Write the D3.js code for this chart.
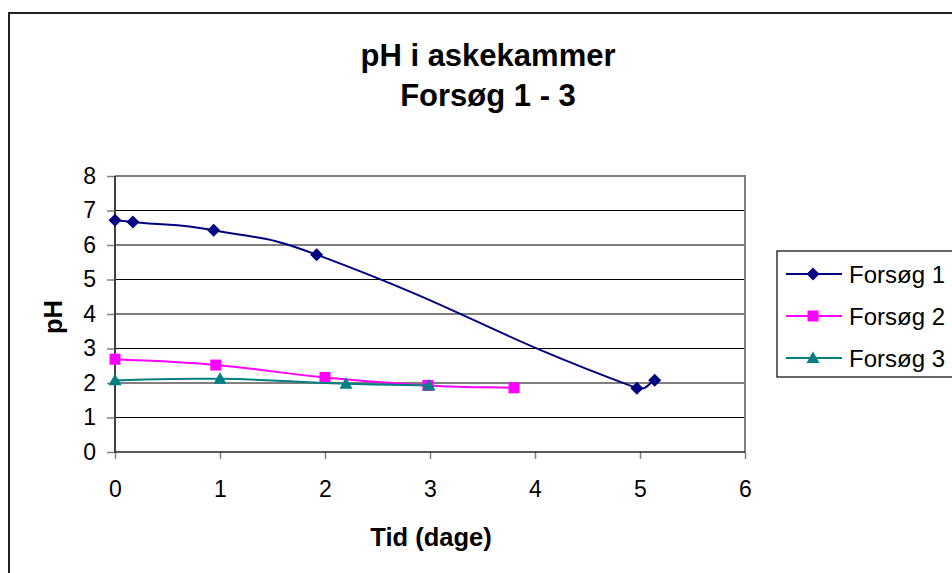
<!DOCTYPE html>
<html><head><meta charset="utf-8">
<script src="https://cdn.jsdelivr.net/npm/d3@7"></script>
<style>
html,body{margin:0;padding:0;background:#fff;}
svg{display:block;font-family:"Liberation Sans",Arial,sans-serif;}
</style></head>
<body>
<svg id="chart" width="952" height="573"></svg>
<script>
// ---- data ----
const titleLines = ["pH i askekammer", "Forsøg 1 - 3"];
const xTitle = "Tid (dage)";
const yTitle = "pH";
const xTicks = [0, 1, 2, 3, 4, 5, 6];
const yTicks = [0, 1, 2, 3, 4, 5, 6, 7, 8];
const seriesNames = ["Forsøg 1", "Forsøg 2", "Forsøg 3"];
const forsog1X = [0, 0.17, 0.94, 1.92, 4.97, 5.14];
const forsog1Y = [6.72, 6.67, 6.43, 5.72, 1.85, 2.08];
const forsog2X = [0, 0.96, 2.0, 2.98, 3.8];
const forsog2Y = [2.69, 2.52, 2.16, 1.93, 1.86];
const forsog3X = [0, 1.0, 2.2, 2.99];
const forsog3Y = [2.08, 2.12, 1.98, 1.93];

const series = [
  {name: seriesNames[0], xs: forsog1X, ys: forsog1Y, color: "#000080", marker: "diamond"},
  {name: seriesNames[1], xs: forsog2X, ys: forsog2Y, color: "#FF00FF", marker: "square"},
  {name: seriesNames[2], xs: forsog3X, ys: forsog3Y, color: "#008080", marker: "triangle"}
];

const svg = d3.select("#chart");
const L = 115, R = 745, T = 176, B = 452;
const x = d3.scaleLinear().domain([0, 6]).range([L, R]);
const y = d3.scaleLinear().domain([0, 8]).range([B, T]);

// Excel-like smoothing: Bezier with tangents split by neighbouring segment lengths
function curveExcelSmooth(context) {
  let pts = [];
  const K = 0.5;
  return {
    areaStart() {}, areaEnd() {},
    lineStart() { pts = []; },
    point(px, py) { pts.push([+px, +py]); },
    lineEnd() {
      const n = pts.length;
      if (!n) return;
      context.moveTo(pts[0][0], pts[0][1]);
      if (n === 1) return;
      const dist = (a, b) => Math.hypot(b[0] - a[0], b[1] - a[1]);
      const outC = [], inC = [];
      for (let i = 0; i < n; i++) {
        const p = pts[i];
        const prev = pts[Math.max(0, i - 1)], next = pts[Math.min(n - 1, i + 1)];
        const tx = next[0] - prev[0], ty = next[1] - prev[1];
        const dp = i > 0 ? dist(prev, p) : 0, dn = i < n - 1 ? dist(p, next) : 0;
        const sum = dp + dn || 1;
        let fo = K * dn / sum, fi = K * dp / sum;
        if (i === 0) fo = 1 / 3;
        if (i === n - 1) fi = 1 / 3;
        outC.push([p[0] + tx * fo, p[1] + ty * fo]);
        inC.push([p[0] - tx * fi, p[1] - ty * fi]);
      }
      for (let i = 0; i < n - 1; i++) {
        context.bezierCurveTo(outC[i][0], outC[i][1], inC[i + 1][0], inC[i + 1][1], pts[i + 1][0], pts[i + 1][1]);
      }
    }
  };
}

// outer chart border
svg.append("rect").attr("x", 9).attr("y", 13).attr("width", 1000).attr("height", 700)
  .attr("fill", "#fff").attr("stroke", "#222").attr("stroke-width", 2);

// title
titleLines.forEach((t, i) => {
  svg.append("text").attr("x", 488).attr("y", 66 + i * 40)
    .attr("text-anchor", "middle").attr("font-weight", "bold").attr("font-size", 31)
    .attr("fill", "#000").text(t);
});

// gridlines
svg.append("g").selectAll("line").data(yTicks.filter(d => d > 0 && d < 8)).join("line")
  .attr("x1", L).attr("x2", R).attr("y1", d => y(d)).attr("y2", d => y(d))
  .attr("stroke", "#000").attr("stroke-width", 1.2);

// plot frame top/right
svg.append("path").attr("d", `M${L},${T}H${R}V${B}`).attr("fill", "none")
  .attr("stroke", "#808080").attr("stroke-width", 2);

// axes
const yAxis = d3.axisLeft(y).tickValues(yTicks).tickSize(8).tickPadding(11).tickFormat(d3.format("d"));
const gy = svg.append("g").attr("transform", `translate(${L},0)`).call(yAxis);
const xAxis = d3.axisBottom(x).tickValues(xTicks).tickSize(7).tickPadding(22).tickFormat(d3.format("d"));
const gx = svg.append("g").attr("transform", `translate(0,${B})`).call(xAxis);
[gx, gy].forEach(g => {
  g.select(".domain").remove();
  g.selectAll(".tick line").attr("stroke", "#808080").attr("stroke-width", 1.5);
  g.selectAll("text").attr("font-size", 23).attr("fill", "#000")
    .attr("font-family", "'Liberation Sans', Arial, sans-serif");
});
svg.append("line").attr("x1", L).attr("x2", R).attr("y1", B).attr("y2", B)
  .attr("stroke", "#222").attr("stroke-width", 1.5);
svg.append("line").attr("x1", L).attr("x2", L).attr("y1", T).attr("y2", B + 1)
  .attr("stroke", "#404040").attr("stroke-width", 2);

// axis titles
svg.append("text").attr("x", (L + R) / 2 + 1).attr("y", 546).attr("text-anchor", "middle")
  .attr("font-weight", "bold").attr("font-size", 25.5).text(xTitle);
svg.append("text").attr("transform", `translate(62,${(T + B) / 2 + 3}) rotate(-90)`)
  .attr("text-anchor", "middle").attr("font-weight", "bold").attr("font-size", 25.5).text(yTitle);

// marker shapes
function markerPath(type) {
  if (type === "diamond") return "M0,-6.5L6.5,0L0,6.5L-6.5,0Z";
  if (type === "square") return "M-5.5,-5.5H5.5V5.5H-5.5Z";
  return "M0,-6.5L6.5,5L-6.5,5Z";
}

const line = d3.line().x(d => x(d[0])).y(d => y(d[1])).curve(curveExcelSmooth);
series.forEach(s => {
  const pts = s.xs.map((v, i) => [v, s.ys[i]]);
  svg.append("path").datum(pts).attr("d", line).attr("fill", "none")
    .attr("stroke", s.color).attr("stroke-width", 2);
  svg.append("g").selectAll("path").data(pts).join("path")
    .attr("transform", d => `translate(${x(d[0])},${y(d[1])})`)
    .attr("d", markerPath(s.marker)).attr("fill", s.color);
});

// legend
const lg = svg.append("g");
lg.append("rect").attr("x", 777).attr("y", 251).attr("width", 300).attr("height", 126)
  .attr("fill", "#fff").attr("stroke", "#000").attr("stroke-width", 1.2);
series.forEach((s, i) => {
  const cy = 274 + i * 42;
  lg.append("line").attr("x1", 786).attr("x2", 842).attr("y1", cy).attr("y2", cy)
    .attr("stroke", s.color).attr("stroke-width", 2);
  lg.append("path").attr("transform", `translate(813,${cy})`).attr("d", markerPath(s.marker))
    .attr("fill", s.color);
  lg.append("text").attr("x", 849).attr("y", cy + 8.5).attr("font-size", 24).attr("fill", "#000").text(s.name);
});
</script>
</body></html>
